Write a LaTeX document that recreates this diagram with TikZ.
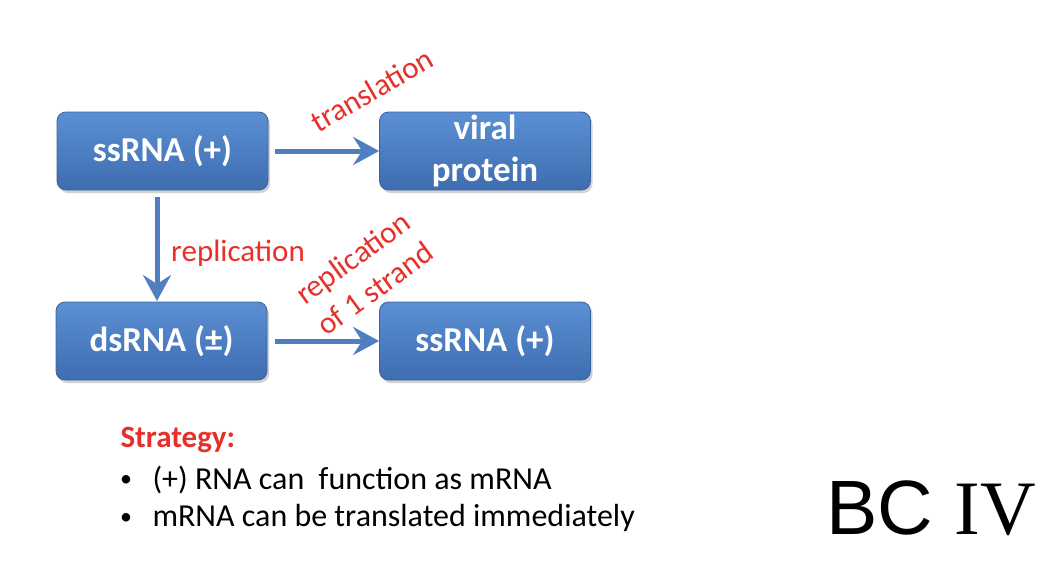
\documentclass[tikz,border=0pt]{standalone}
\usepackage{fontspec}
\setmainfont{Carlito}
\newfontfamily\bcsans{Liberation Sans}
\newfontfamily\bcserif{Liberation Serif}
\usetikzlibrary{arrows.meta,shadows}
\definecolor{boxtop}{HTML}{5B8FD3}
\definecolor{boxbot}{HTML}{3E6DB0}
\definecolor{boxedge}{HTML}{3A64A0}
\definecolor{arrowblue}{HTML}{4F7FC0}
\definecolor{labelred}{HTML}{E8302A}
\tikzset{
  rnabox/.style={rectangle, rounded corners=9pt, draw=boxedge, line width=0.8pt,
    top color=boxtop, bottom color=boxbot, minimum width=211pt, minimum height=78pt,
    text=white, font=\bfseries\fontsize{35}{42}\selectfont, align=center, inner sep=0pt,
    drop shadow={shadow xshift=2pt, shadow yshift=-3pt, opacity=0.35}},
  flow/.style={draw=arrowblue, line width=5pt,
    -{Stealth[length=26pt, width=28pt, inset=9pt]}},
  redlabel/.style={text=labelred, font=\fontsize{31}{38}\selectfont, align=center, inner sep=1pt},
  bodytext/.style={anchor=west, font=\fontsize{32}{36}\selectfont},
  bulletmark/.style={anchor=center, font=\fontsize{24}{28}\selectfont}
}
\begin{document}
\begin{tikzpicture}[x=1pt,y=-1pt]
\useasboundingbox[fill=white] (0,0) rectangle (1062,568);
\node[rnabox] (ss1) at (162.5,151) {ssRNA (+)};
\node[rnabox, text height=30pt, text depth=48pt] (vp) at (485,151) {};
\node[text=white, font=\bfseries\fontsize{35}{42}\selectfont, align=center] (vpt) at (vp.center) {viral\\protein};
\node[rnabox] (ds) at (161.5,341) {dsRNA (\textpm)};
\node[rnabox] (ss2) at (485,341) {ssRNA (+)};
\coordinate (a1s) at (275,151);
\coordinate (a2s) at (157,197);
\coordinate (a3s) at (275,341);
\draw[flow] (a1s) -- (vp.west |- a1s);
\draw[flow] (a2s) -- (157,301);
\draw[flow] (a3s) -- (ss2.west);
\node[redlabel, rotate=30] (tl) at (372,90) {translation};
\node[redlabel, anchor=west] (rep) at (170,253) {replication};
\node[redlabel, rotate=36] (rep1) at (364,273) {replication\\of 1 strand};
\node[bodytext, text=labelred, font=\bfseries\fontsize{31}{34}\selectfont] (strat) at (117,440) {Strategy:};
\node[bulletmark] (b1) at (126,481) {\textbullet};
\node[bodytext] (t1) at (149,480) {(+) RNA can\ \ function as mRNA};
\node[bulletmark] (b2) at (126,519) {\textbullet};
\node[bodytext] (t2) at (149,518) {mRNA can be translated immediately};
\node[anchor=west, inner sep=0pt, font=\fontsize{77}{90}\selectfont] (bc) at (826,508) {\bcsans BC \bcserif IV};
\end{tikzpicture}
\end{document}
